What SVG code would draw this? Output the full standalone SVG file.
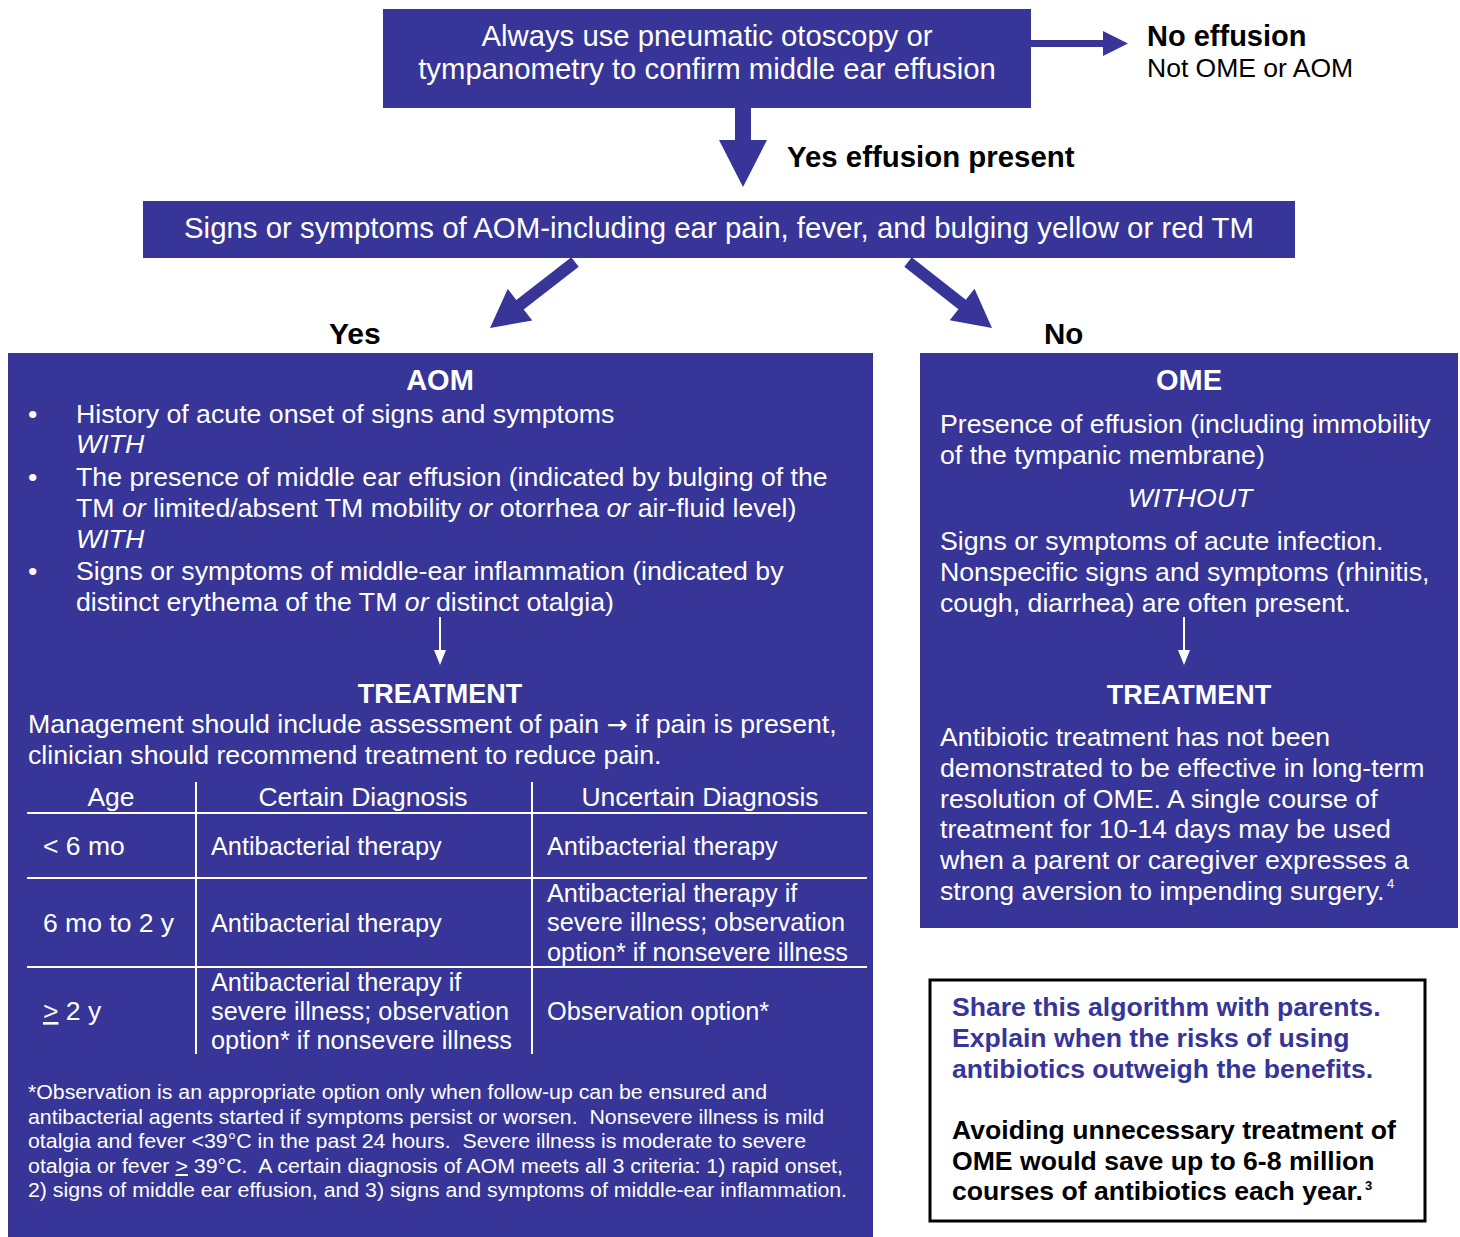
<svg xmlns="http://www.w3.org/2000/svg" width="1460" height="1237" viewBox="0 0 1460 1237">
<style>
text{font-family:"Liberation Sans",Arial,sans-serif}
.box{fill:#373597}
.w{fill:#fff}
.k{fill:#000}
.c{text-anchor:middle}
.b{font-weight:bold}
.i{font-style:italic}
.t29{font-size:29.3px}
.t28{font-size:29px}
.t26{font-size:26.7px}
.t25{font-size:25.3px}
.t20{font-size:20px}
.tl{stroke:#fff;stroke-width:2}
.ar{fill:#373597}
.sup{font-size:13px}
</style>
<rect width="1460" height="1237" fill="#fff"/>
<g id="connectors">
<polygon class="ar" points="735,106 751,106 751,140 767,140 743,187 719,140 735,140"/>
<polygon class="ar" points="1029,40 1103,40 1103,31 1128,43.5 1103,56 1103,47 1029,47"/>
<polygon class="ar" points="571.3,257.3 578.7,266.7 523.7,309.4 532.3,320.5 490,328 507.7,288.9 516.3,300.0"/>
<polygon class="ar" points="911.7,257.3 904.3,266.7 958.4,309.2 949.7,320.2 992,328 974.5,288.8 965.8,299.8"/>
<text class="k b" x="787" y="167" style="font-size:29.4px">Yes effusion present</text>
<text class="k b" x="329" y="344" style="font-size:30px">Yes</text>
<text class="k b" x="1044" y="344" style="font-size:29.5px">No</text>
</g>
<g id="confirm">
<rect class="box" x="383" y="9" width="648" height="99"/>
<text class="w t29 c" x="707" y="46">Always use pneumatic otoscopy or</text>
<text class="w t29 c" x="707" y="79">tympanometry to confirm middle ear effusion</text>
</g>
<g id="no-effusion">
<text class="k b" x="1147" y="46" style="font-size:29px">No effusion</text>
<text class="k" x="1147" y="77" style="font-size:26.5px">Not OME or AOM</text>
</g>
<g id="signs">
<rect class="box" x="143" y="201" width="1152" height="57"/>
<text class="w t28 c" x="719" y="238" textLength="1070" lengthAdjust="spacingAndGlyphs">Signs or symptoms of AOM-including ear pain, fever, and bulging yellow or red TM</text>
</g>
<g id="aom">
<rect class="box" x="8" y="353" width="865" height="884"/>
<text class="w b c" x="440" y="390" style="font-size:29px">AOM</text>
<g class="w t26">
<text x="28" y="423">•</text>
<text x="76" y="423">History of acute onset of signs and symptoms</text>
<text class="i" x="76" y="453">WITH</text>
<text x="28" y="486">•</text>
<text x="76" y="486">The presence of middle ear effusion (indicated by bulging of the</text>
<text x="76" y="517">TM <tspan class="i">or</tspan> limited/absent TM mobility <tspan class="i">or</tspan> otorrhea <tspan class="i">or</tspan> air-fluid level)</text>
<text class="i" x="76" y="548">WITH</text>
<text x="28" y="580">•</text>
<text x="76" y="580">Signs or symptoms of middle-ear inflammation (indicated by</text>
<text x="76" y="611">distinct erythema of the TM <tspan class="i">or</tspan> distinct otalgia)</text>
</g>
<line class="tl" x1="440" y1="617" x2="440" y2="652"/>
<polygon class="w" points="434,650 446,650 440,665"/>
<text class="w b c" x="440" y="703" style="font-size:27px">TREATMENT</text>
<text class="w t26" x="28" y="733">Management should include assessment of pain <tspan style="font-family:'DejaVu Sans',sans-serif;font-size:25px">→</tspan> if pain is present,</text>
<text class="w t26" x="28" y="764">clinician should recommend treatment to reduce pain.</text>
</g>
<g id="aom-table">
<line class="tl" x1="196" y1="782" x2="196" y2="1054"/>
<line class="tl" x1="532" y1="782" x2="532" y2="1054"/>
<line class="tl" x1="27" y1="813" x2="867" y2="813"/>
<line class="tl" x1="27" y1="878" x2="867" y2="878"/>
<line class="tl" x1="27" y1="967" x2="867" y2="967"/>
<g class="w t25">
<text class="c" x="111" y="806" style="font-size:26.5px">Age</text>
<text class="c" x="363" y="806" style="font-size:26.5px">Certain Diagnosis</text>
<text class="c" x="700" y="806" style="font-size:26.5px">Uncertain Diagnosis</text>
<text x="43" y="855" style="font-size:26.5px">&lt; 6 mo</text>
<text x="211" y="855">Antibacterial therapy</text>
<text x="547" y="855">Antibacterial therapy</text>
<text x="43" y="932" style="font-size:26.5px">6 mo to 2 y</text>
<text x="211" y="932">Antibacterial therapy</text>
<text x="547" y="902">Antibacterial therapy if</text>
<text x="547" y="931">severe illness; observation</text>
<text x="547" y="961">option* if nonsevere illness</text>
<text x="43" y="1020" style="font-size:26.5px"><tspan text-decoration="underline">&gt;</tspan> 2 y</text>
<text x="211" y="991">Antibacterial therapy if</text>
<text x="211" y="1020">severe illness; observation</text>
<text x="211" y="1049">option* if nonsevere illness</text>
<text x="547" y="1020">Observation option*</text>
</g>
<g class="w t20">
<text x="28" y="1099" textLength="739" lengthAdjust="spacingAndGlyphs">*Observation is an appropriate option only when follow-up can be ensured and</text>
<text x="28" y="1124" textLength="796" lengthAdjust="spacingAndGlyphs">antibacterial agents started if symptoms persist or worsen.&#160; Nonsevere illness is mild</text>
<text x="28" y="1148" textLength="778" lengthAdjust="spacingAndGlyphs">otalgia and fever &lt;39°C in the past 24 hours.&#160; Severe illness is moderate to severe</text>
<text x="28" y="1173" textLength="815" lengthAdjust="spacingAndGlyphs">otalgia or fever <tspan text-decoration="underline">&gt;</tspan> 39°C.&#160; A certain diagnosis of AOM meets all 3 criteria: 1) rapid onset,</text>
<text x="28" y="1197" textLength="819" lengthAdjust="spacingAndGlyphs">2) signs of middle ear effusion, and 3) signs and symptoms of middle-ear inflammation.</text>
</g>
</g>
<g id="ome">
<rect class="box" x="920" y="353" width="538" height="575"/>
<text class="w b c" x="1189" y="390" style="font-size:29px">OME</text>
<g class="w t26">
<text x="940" y="433">Presence of effusion (including immobility</text>
<text x="940" y="464">of the tympanic membrane)</text>
<text class="i c" x="1190" y="507">WITHOUT</text>
<text x="940" y="550">Signs or symptoms of acute infection.</text>
<text x="940" y="581">Nonspecific signs and symptoms (rhinitis,</text>
<text x="940" y="612">cough, diarrhea) are often present.</text>
</g>
<line class="tl" x1="1184" y1="617" x2="1184" y2="652"/>
<polygon class="w" points="1178,650 1190,650 1184,665"/>
<text class="w b c" x="1189" y="704" style="font-size:27px">TREATMENT</text>
<g class="w t26">
<text x="940" y="746">Antibiotic treatment has not been</text>
<text x="940" y="777">demonstrated to be effective in long-term</text>
<text x="940" y="808">resolution of OME. A single course of</text>
<text x="940" y="838">treatment for 10-14 days may be used</text>
<text x="940" y="869">when a parent or caregiver expresses a</text>
<text x="940" y="900">strong aversion to impending surgery.</text>
</g>
<text class="w sup" x="1387" y="888">4</text>
</g>
<g id="share">
<rect x="930" y="980" width="495" height="241" fill="#fff" stroke="#000" stroke-width="3"/>
<g class="b" style="font-size:26.6px">
<text x="952" y="1016" fill="#373597">Share this algorithm with parents.</text>
<text x="952" y="1047" fill="#373597">Explain when the risks of using</text>
<text x="952" y="1078" fill="#373597">antibiotics outweigh the benefits.</text>
<text class="k" x="952" y="1139">Avoiding unnecessary treatment of</text>
<text class="k" x="952" y="1170">OME would save up to 6-8 million</text>
<text class="k" x="952" y="1200">courses of antibiotics each year.</text>
</g>
<text class="k b sup" x="1365" y="1190">3</text>
</g>
</svg>
